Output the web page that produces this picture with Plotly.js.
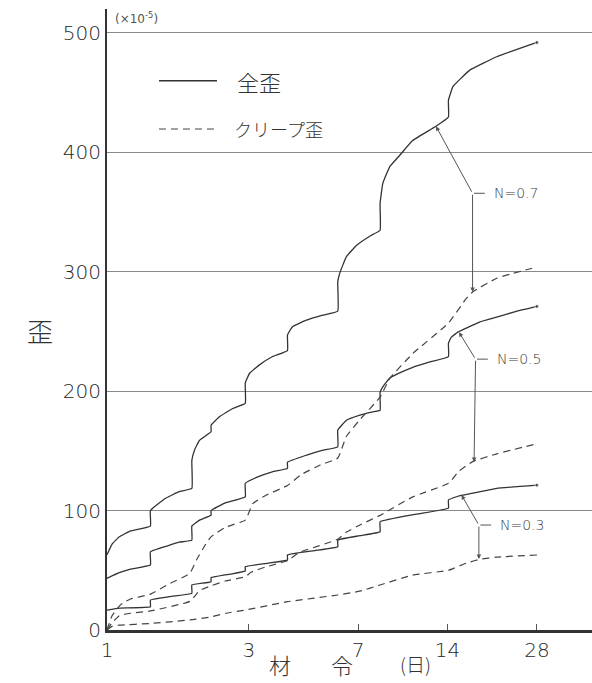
<!DOCTYPE html>
<html>
<head>
<meta charset="utf-8">
<script src="https://cdn.plot.ly/plotly-3.0.1.min.js"></script>
<style>html,body{margin:0;padding:0;background:#fff;}#chart{width:592px;height:683px;}</style>
</head>
<body>
<div id="chart"></div>
<script>
// ---- Data (age in days, strain x10^-5) ----
const xTickVals = [1, 3, 7, 14, 28];
const xTickText = ["1", "3", "7", "14", "28"];
const yTickVals = [0, 100, 200, 300, 400, 500];

// Total strain, N = 0.7
const tot07_x = [1, 1.04, 1.1, 1.2, 1.4, 1.4, 1.58, 1.75, 1.93, 1.93, 1.97, 2.05, 2.24, 2.24, 2.39, 2.65, 2.92,
  2.92, 3.02, 3.26, 3.61, 4.05, 4.05, 4.21, 4.69, 5.32, 5.98, 5.98, 6.07, 6.39, 6.91, 7.66, 8.3,
  8.3, 8.48, 8.95, 9.67, 10.7, 12.8, 14.1, 14.1, 14.6, 16.6, 20.5, 28];
const tot07_y = [63, 72, 78, 83, 87, 100, 110.5, 115.8, 118.6, 142, 150.6, 159, 166, 171.5, 178.5, 185.5, 189.7,
  207, 215, 222, 229, 234, 247, 254, 259.4, 263.6, 267, 291.5, 298.6, 312.5, 322, 329.7, 334.7,
  357, 374, 388, 397.5, 410, 421.8, 429.6, 443.5, 455, 468.6, 480, 492];

// Total strain, N = 0.5
const tot05_x = [1, 1.1, 1.2, 1.4, 1.4, 1.6, 1.75, 1.93, 1.93, 2.05, 2.24, 2.24, 2.5, 2.92,
  2.92, 3.2, 3.6, 4.05, 4.05, 4.7, 5.3, 5.98, 5.98, 6.4, 7.1, 7.84, 8.3,
  8.3, 8.5, 8.95, 9.5, 10.7, 12.2, 14.1, 14.1, 14.4, 15.2, 16.6, 18, 20.5, 24, 28];
const tot05_y = [43.3, 48, 51, 54.4, 65.5, 70.5, 73.5, 75.3, 87, 92, 96.2, 100, 106.5, 111.5,
  122.8, 128, 132.5, 135.3, 140.5, 146.5, 150.5, 153.4, 167.4, 175.7, 180, 182.7, 184,
  199, 204, 211, 214.5, 220, 224.5, 229, 240, 245, 249.6, 254, 258, 262, 267, 271];

// Total strain, N = 0.3
const tot03_x = [1, 1.1, 1.4, 1.4, 1.65, 1.93, 1.93, 2.24, 2.24, 2.6, 2.92, 2.92, 3.5, 4.05,
  4.05, 5, 5.98, 5.98, 7.1, 8.3, 8.3, 11, 14.1, 14.1, 15.2, 16.6, 20.5, 28];
const tot03_y = [16.7, 18.4, 19.5, 25, 28.2, 30.7, 37.7, 40.4, 43.8, 46.8, 49.4, 53, 56, 58.6,
  62.8, 66.5, 69.7, 75.3, 79, 82.3, 90.6, 97, 102, 108.8, 112, 114, 118.6, 121.3];

// Creep strain, N = 0.7
const crp07_x = [1, 1.04, 1.1, 1.13, 1.2, 1.4, 1.6, 1.9, 2.0, 2.16, 2.24, 2.5, 2.92, 3.1, 3.44, 4.05, 4.5, 5.2,
  5.98, 6.39, 7.09, 8.3, 8.95, 10.7, 14.1, 16.2, 17.0, 20.5, 28];
const crp07_y = [0, 12, 20, 22.6, 26, 30, 38, 47.5, 58.6, 72.8, 78, 86, 92, 106, 113, 121, 130, 138,
  144, 162, 176, 195, 210.6, 231.5, 257, 277.6, 283, 294.5, 304];

// Creep strain, N = 0.5
const crp05_x = [1, 1.04, 1.1, 1.2, 1.4, 1.9, 2.05, 2.24, 2.5, 2.92, 3.06, 3.44, 4.05, 4.45, 5.98, 6.4, 7.1,
  8.3, 10.7, 14.1, 15.3, 17.0, 20.5, 28];
const crp05_y = [0, 6, 12, 14, 16, 24, 33, 37, 41, 44.6, 48.5, 53, 58, 65, 76, 82, 88,
  96, 111.5, 122.8, 133, 141, 147.5, 156];

// Creep strain, N = 0.3
const crp03_x = [1, 1.04, 1.1, 1.4, 1.9, 2.24, 2.5, 2.92, 4.05, 5.98, 7.1, 8.3, 10.7, 14.1, 16.2, 18.0, 20.5, 28];
const crp03_y = [0, 3, 4, 5.5, 8.4, 11, 14, 16.7, 23.7, 29.3, 32.5, 37.7, 46, 50, 56, 59.2, 61, 62.8];

// ---- Drawing ----
const INK = '#333';
const numFont = 'DejaVu Sans, sans-serif';
const cjkFont = 'Noto Sans CJK JP, sans-serif';

function solid(x, y, name) {
  return {x: x, y: y, name: name, type: 'scatter', mode: 'lines+markers',
    line: {color: INK, width: 1.3, shape: 'spline', smoothing: 0.3},
    marker: {color: INK, size: x.map((v, i) => i === x.length - 1 ? 4 : 0)},
    hoverinfo: 'x+y', showlegend: false};
}
function dashed(x, y, name) {
  return {x: x, y: y, name: name, type: 'scatter', mode: 'lines',
    line: {color: '#444', width: 1.2, dash: '7px,5px', shape: 'spline', smoothing: 0.4},
    hoverinfo: 'x+y', showlegend: false};
}

const traces = [
  solid(tot07_x, tot07_y, '全歪 N=0.7'),
  solid(tot05_x, tot05_y, '全歪 N=0.5'),
  solid(tot03_x, tot03_y, '全歪 N=0.3'),
  dashed(crp07_x, crp07_y, 'クリープ歪 N=0.7'),
  dashed(crp05_x, crp05_y, 'クリープ歪 N=0.5'),
  dashed(crp03_x, crp03_y, 'クリープ歪 N=0.3')
];

const L = Math.log10;
function arrow(xh, yh, xt, yt, head) {
  return {x: L(xh), y: yh, ax: L(xt), ay: yt, xref: 'x', yref: 'y', axref: 'x', ayref: 'y',
    text: '', showarrow: true, arrowhead: head, arrowsize: 0.9, arrowwidth: 1, arrowcolor: '#555', standoff: 0, startstandoff: 0};
}
function nLabel(txt, jx, jy, solidX, solidY, creepX, creepY) {
  return [
    arrow(solidX, solidY, jx, jy, 2),
    arrow(creepX, creepY, jx, jy, 2),
    arrow(jx * 1.1, jy, jx, jy, 0),
    {x: L(jx * 1.16), y: jy, xref: 'x', yref: 'y', text: txt, showarrow: false, xanchor: 'left', yanchor: 'middle',
      font: {family: 'DejaVu Sans, sans-serif', size: 14, color: '#3a3a3a', weight: 300}}
  ];
}

const annotations = [
  ...nLabel('N=0.7', 17.0, 365.7, 12.8, 421.8, 17.0, 283),
  ...nLabel('N=0.5', 17.4, 226.8, 15.3, 249.4, 17.2, 140.6),
  ...nLabel('N=0.3', 17.85, 87.9, 15.6, 113, 17.85, 59.4),
  {xref: 'paper', yref: 'paper', x: 0.2639, y: 0.8845, text: '全歪', showarrow: false, xanchor: 'left', yanchor: 'middle',
    font: {family: cjkFont, size: 22, color: INK, weight: 300}},
  {xref: 'paper', yref: 'paper', x: 0.2577, y: 0.8068, text: 'クリープ歪', showarrow: false, xanchor: 'left', yanchor: 'middle',
    font: {family: cjkFont, size: 18, color: INK, weight: 300}},
  {xref: 'paper', yref: 'paper', x: 0.012, y: 0.986, text: '(×10<sup>-5</sup>)', showarrow: false, xanchor: 'left', yanchor: 'middle',
    font: {family: 'DejaVu Sans, sans-serif', size: 12, color: '#555'}},
  {xref: 'paper', yref: 'paper', x: -0.138, y: 0.483, text: '歪', showarrow: false, xanchor: 'center', yanchor: 'middle',
    font: {family: cjkFont, size: 26, color: INK, weight: 300}},
  {xref: 'paper', yref: 'paper', x: 0.3567, y: -0.054, text: '材', showarrow: false, xanchor: 'center', yanchor: 'middle',
    font: {family: cjkFont, size: 22, color: INK, weight: 300}},
  {xref: 'paper', yref: 'paper', x: 0.484, y: -0.054, text: '令', showarrow: false, xanchor: 'center', yanchor: 'middle',
    font: {family: cjkFont, size: 22, color: INK, weight: 300}},
  {xref: 'paper', yref: 'paper', x: 0.637, y: -0.054, text: '(日)', showarrow: false, xanchor: 'center', yanchor: 'middle',
    font: {family: cjkFont, size: 19, color: INK, weight: 300}}
];

const shapes = [
  {type: 'line', xref: 'paper', yref: 'paper', x0: 0.1072, x1: 0.2268, y0: 0.8845, y1: 0.8845,
    line: {color: INK, width: 1.3}},
  {type: 'line', xref: 'paper', yref: 'paper', x0: 0.1072, x1: 0.2268, y0: 0.8068, y1: 0.8068,
    line: {color: '#444', width: 1.2, dash: '7px,5px'}}
];

const layout = {
  width: 592, height: 683,
  margin: {l: 107, r: 0, t: 9, b: 53},
  paper_bgcolor: '#fff', plot_bgcolor: '#fff',
  showlegend: false,
  xaxis: {type: 'log', range: [0, L(42.9)], tickvals: xTickVals, ticktext: xTickText,
    ticks: 'inside', ticklen: 6, tickwidth: 1, tickcolor: '#555',
    showline: true, linewidth: 2.5, linecolor: INK, showgrid: false, zeroline: false,
    ticklabelstandoff: 0,
    tickfont: {family: numFont, size: 20, color: '#262626', weight: 200}},
  yaxis: {range: [0, 520], tickvals: yTickVals, ticks: '', showgrid: true, gridcolor: '#8a8a8a', gridwidth: 1,
    showline: true, linewidth: 2, linecolor: INK, zeroline: false,
    tickfont: {family: numFont, size: 20, color: '#262626', weight: 200}},
  annotations: annotations,
  shapes: shapes
};

Plotly.newPlot('chart', traces, layout, {staticPlot: true, displayModeBar: false});
</script>
</body>
</html>
